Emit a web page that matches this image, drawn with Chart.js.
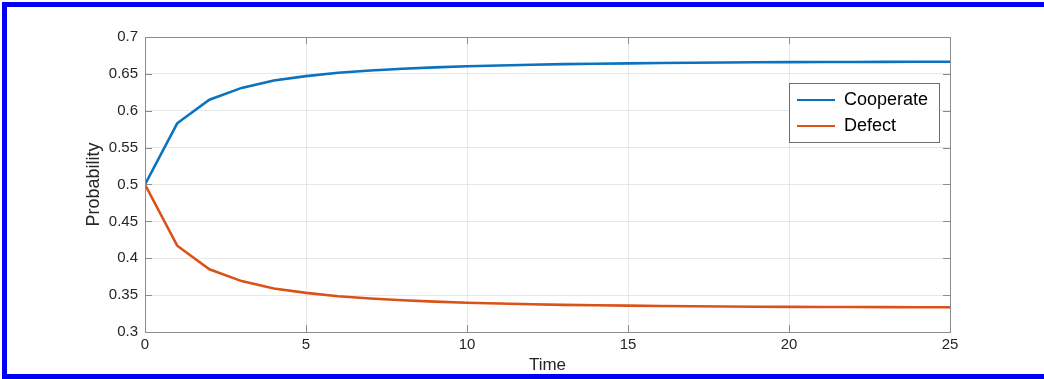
<!DOCTYPE html>
<html lang="en">
<head>
<meta charset="utf-8">
<title>Cooperate vs Defect</title>
<script src="https://cdn.jsdelivr.net/npm/chart.js@4.4.1/dist/chart.umd.min.js"></script>
<style>
  html, body { margin: 0; padding: 0; background: #fff; overflow: hidden; }
  #wrap { position: relative; width: 1044px; height: 379px; }
  #frame { position: absolute; left: 2px; top: 2px; width: 1100px; height: 367px;
           border: 5px solid #0000f5; pointer-events: none; }
</style>
</head>
<body>
<div id="wrap">
  <canvas id="chart" width="1044" height="379"></canvas>
  <div id="frame"></div>
</div>

<script>
// values
const timeSteps = [0, 1, 2, 3, 4, 5, 6, 7, 8, 9, 10, 11, 12, 13, 14, 15, 16, 17, 18, 19, 20, 21, 22, 23, 24, 25];
const cooperate = [0.5, 0.583, 0.615, 0.631, 0.641, 0.647, 0.6515, 0.6545, 0.657, 0.6588, 0.6603, 0.6614, 0.6624,
                   0.6632, 0.6638, 0.6643, 0.6648, 0.6651, 0.6654, 0.6657, 0.6659, 0.6661, 0.6662, 0.6663, 0.6664, 0.6665];
const defect = [0.5, 0.417, 0.385, 0.369, 0.359, 0.353, 0.3485, 0.3455, 0.343, 0.3412, 0.3397, 0.3386, 0.3376,
                0.3368, 0.3362, 0.3357, 0.3352, 0.3349, 0.3346, 0.3343, 0.3341, 0.3339, 0.3338, 0.3337, 0.3336, 0.3335];
const seriesNames = ['Cooperate', 'Defect'];
const seriesColors = ['#0a72be', '#d95319'];

const xLimits = [0, 25], xStep = 5;
const yLimits = [0.3, 0.7], yStep = 0.05;

const axisColor = '#8c8c8c';
const textColor = '#262626';
const fontFamily = '"Liberation Sans", Arial, Helvetica, sans-serif';

// legend box size (drawn by hand, the legend itself by chart.js)
const legendBoxW = 150, legendBoxH = 59;

// matlab style: box round the axes, ticks pointing inward, legend in a white box
const matlabAxes = {
    id: 'matlabAxes',
    afterLayout(chart) {
        const a = chart.chartArea, lg = chart.legend;
        lg.left = a.right - 161;
        lg.top = a.top + 46;
        lg.width = legendBoxW;
        lg.height = 90;   // roomy, so both entries stay in one column
        lg.right = lg.left + lg.width;
        lg.bottom = lg.top + lg.height;
    },
    afterDraw(chart) {
        const ctx = chart.ctx, a = chart.chartArea;
        const xs = chart.scales.x, ys = chart.scales.y;
        const tl = 7;
        ctx.save();
        ctx.strokeStyle = axisColor;
        ctx.lineWidth = 1;
        ctx.beginPath();
        xs.ticks.forEach(t => {
            const px = Math.round(xs.getPixelForValue(t.value)) + 0.5;
            ctx.moveTo(px, a.bottom); ctx.lineTo(px, a.bottom - tl);
            ctx.moveTo(px, a.top); ctx.lineTo(px, a.top + tl);
        });
        ys.ticks.forEach(t => {
            const py = Math.round(ys.getPixelForValue(t.value)) + 0.5;
            ctx.moveTo(a.left, py); ctx.lineTo(a.left + tl, py);
            ctx.moveTo(a.right, py); ctx.lineTo(a.right - tl, py);
        });
        ctx.stroke();
        ctx.strokeRect(Math.round(a.left) + 0.5, Math.round(a.top) + 0.5,
                       Math.round(a.width), Math.round(a.height));

        const lg = chart.legend;
        ctx.fillStyle = '#fff';
        ctx.fillRect(lg.left, lg.top, legendBoxW, legendBoxH);
        ctx.strokeStyle = '#6e6e6e';
        ctx.strokeRect(Math.round(lg.left) + 0.5, Math.round(lg.top) + 0.5, legendBoxW, legendBoxH);
        ctx.restore();
        lg.draw();
    }
};

const ctx = document.getElementById('chart').getContext('2d');

new Chart(ctx, {
    type: 'line',
    data: {
        labels: timeSteps,
        datasets: [
            { label: seriesNames[0], data: cooperate, borderColor: seriesColors[0], backgroundColor: seriesColors[0] },
            { label: seriesNames[1], data: defect, borderColor: seriesColors[1], backgroundColor: seriesColors[1] }
        ]
    },
    options: {
        responsive: false,
        animation: false,
        devicePixelRatio: 1,
        layout: { padding: { left: 75, right: 94, top: 37, bottom: 0 } },
        elements: {
            line: { borderWidth: 2.6, tension: 0, fill: false },
            point: { radius: 0, hoverRadius: 0 }
        },
        scales: {
            x: {
                type: 'linear',
                min: xLimits[0],
                max: xLimits[1],
                afterFit(scale) { scale.height = 47; },
                grid: { color: 'rgba(0,0,0,0.09)', drawTicks: false },
                border: { display: false },
                ticks: { stepSize: xStep, padding: 4, color: textColor, font: { family: fontFamily, size: 15 } },
                title: { display: true, text: 'Time', color: textColor,
                         font: { family: fontFamily, size: 17 }, padding: { top: 0, bottom: 3 } }
            },
            y: {
                min: yLimits[0],
                max: yLimits[1],
                afterFit(scale) { scale.width = 70; },
                grid: { color: 'rgba(0,0,0,0.09)', drawTicks: false },
                border: { display: false },
                ticks: { stepSize: yStep, padding: 7, color: textColor,
                         font: { family: fontFamily, size: 15 },
                         callback: v => String(+v.toFixed(2)) },
                title: { display: true, text: 'Probability', color: textColor,
                         font: { family: fontFamily, size: 18 }, padding: { top: 8, bottom: 0 } }
            }
        },
        plugins: {
            tooltip: { enabled: false },
            legend: {
                position: 'chartArea',
                align: 'start',
                labels: {
                    boxWidth: 38,
                    boxHeight: 2,
                    padding: 8,
                    color: textColor,
                    font: { family: fontFamily, size: 18 },
                    generateLabels: chart => chart.data.datasets.map((ds, i) => ({
                        text: ds.label,
                        fillStyle: ds.borderColor,
                        strokeStyle: ds.borderColor,
                        lineWidth: 0,
                        hidden: false,
                        datasetIndex: i
                    }))
                }
            }
        }
    },
    plugins: [matlabAxes]
});
</script>
</body>
</html>
